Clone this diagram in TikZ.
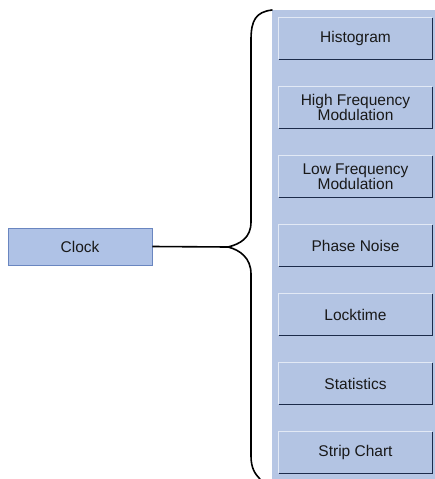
\documentclass[tikz,border=0pt]{standalone}
\usepackage{fontspec}
\setmainfont{Liberation Sans}
\definecolor{panelblue}{HTML}{B6C6E4}
\definecolor{btnblue}{HTML}{B3C4E3}
\definecolor{btnlight}{HTML}{E2E9F5}
\definecolor{btndark}{HTML}{1C2B4A}
\definecolor{clockblue}{HTML}{AFC2E6}
\definecolor{clockedge}{HTML}{6A86C0}
\tikzset{
  menubtn/.style={fill=btnblue, minimum width=153pt, minimum height=41pt,
    inner sep=0pt, align=center, text=black!90,
    font=\fontsize{15.5}{14}\selectfont},
  clockbtn/.style={fill=clockblue, draw=clockedge, line width=0.8pt,
    minimum width=144pt, minimum height=37pt, inner sep=0pt,
    text=black!90, font=\fontsize{15.5}{14}\selectfont},
  bracket/.style={line width=1.6pt, black, line cap=round}
}
\begin{document}
\begin{tikzpicture}[x=1pt, y=-1pt]
    \useasboundingbox[fill=white] (0,0) rectangle (435,479);

    % Side panel
    \fill[panelblue] (272,10) rectangle (435,479);

    % Menu buttons
    \foreach \name/\lbl [count=\k from 0] in {hist/Histogram,
        hfm/{High Frequency\\Modulation}, lfm/{Low Frequency\\Modulation},
        phase/Phase Noise, lock/Locktime, stats/Statistics, strip/Strip Chart} {
        \node[menubtn] (\name) at (355.5, 38.5+69*\k) {\lbl};
        \draw[btnlight, line width=1pt] (\name.south west) |- (\name.north east);
        \draw[btndark, line width=1.4pt] (\name.south west) -| (\name.north east);
    }

    % Clock button
    \node[clockbtn] (clock) at (80,246.5) {Clock};

    % Brace and connector
    \coordinate (tip) at (228,247);
    \draw[bracket] (272,10) .. controls (256,12) and (251,20) .. (251,40)
        -- (251,222) .. controls (251,238) and (240,244) .. (tip)
        .. controls (240,250) and (251,258) .. (251,274)
        -- (251,456) .. controls (251,468) and (255,474) .. (260,479);
    \draw[bracket, line cap=butt] (clock.east) -- (tip);
\end{tikzpicture}
\end{document}
